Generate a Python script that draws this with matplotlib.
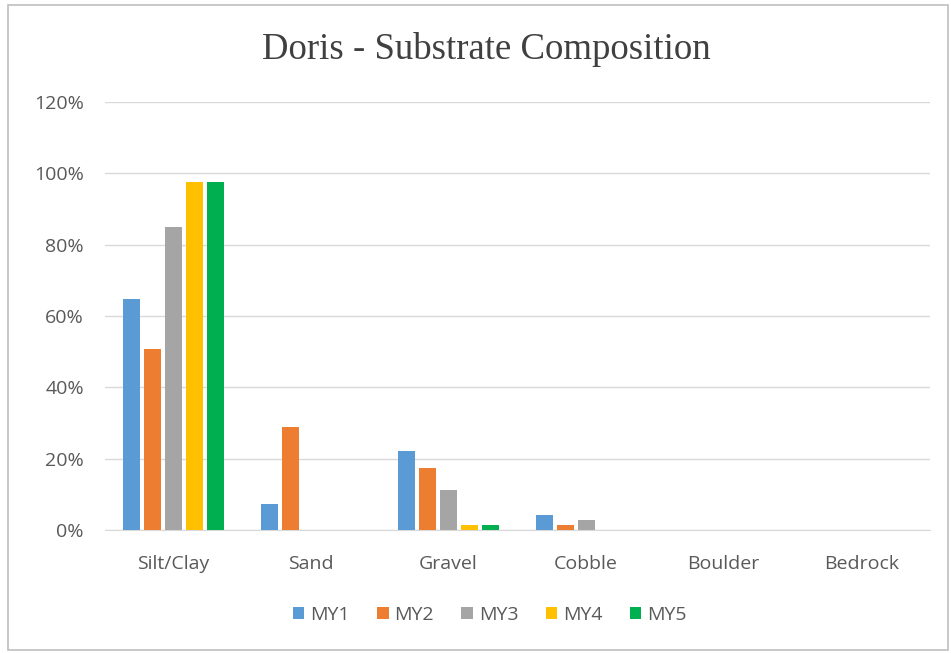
import matplotlib.pyplot as plt
import numpy as np
from matplotlib.patches import Rectangle

categories = ['Silt/Clay', 'Sand', 'Gravel', 'Cobble', 'Boulder', 'Bedrock']
series = ['MY1', 'MY2', 'MY3', 'MY4', 'MY5']
my1 = [64.9, 7.3, 22.1, 4.4, 0, 0]
my2 = [50.9, 28.8, 17.4, 1.6, 0, 0]
my3 = [84.9, 0, 11.4, 2.8, 0, 0]
my4 = [97.5, 0, 1.6, 0, 0, 0]
my5 = [97.5, 0, 1.6, 0, 0, 0]
colors = ['#5B9BD5', '#ED7D31', '#A5A5A5', '#FFC000', '#00B050']

values = [my1, my2, my3, my4, my5]

fig = plt.figure(figsize=(9.51, 6.53), dpi=100)
ax = fig.add_axes([0.110, 0.188, 0.868, 0.656])

x = np.arange(len(categories))
pitch = 0.152
width = 0.123
for i, (name, vals) in enumerate(zip(series, values)):
    ax.bar(x + (i - 2) * pitch, np.array(vals) / 100, width, color=colors[i], label=name, zorder=3)

ax.set_ylim(0, 1.2)
ax.set_xlim(-0.5, 5.5)
ax.set_yticks(np.arange(0, 1.21, 0.2))
ax.set_yticklabels([f'{int(round(v * 100))}%' for v in np.arange(0, 1.21, 0.2)])
ax.set_xticks(x)
ax.set_xticklabels(categories)
ax.yaxis.grid(True, color='#D9D9D9', linewidth=1, zorder=0)
for s in ['top', 'right', 'left']:
    ax.spines[s].set_visible(False)
ax.spines['bottom'].set_color('#D9D9D9')
ax.tick_params(axis='both', length=0, labelsize=14, colors='#595959', labelfontfamily='Open Sans')
ax.tick_params(axis='y', pad=15)
ax.tick_params(axis='x', pad=18)

fig.text(0.511, 0.924, 'Doris - Substrate Composition', ha='center', va='center',
         fontsize=26.5, family='Liberation Serif', color='#404040')

leg = fig.legend(loc='center', bbox_to_anchor=(0.515, 0.058), ncol=5, frameon=False,
                 handlelength=0.6, handleheight=0.6, handletextpad=0.3, columnspacing=1.4,
                 prop={'family': 'Open Sans', 'size': 14})
for t in leg.get_texts():
    t.set_color('#595959')

fig.patches.append(Rectangle((0.008, 0.004), 0.989, 0.989, transform=fig.transFigure,
                             fill=False, edgecolor='#BFBFBF', linewidth=1.2))

fig.savefig('out.png', dpi=100)
